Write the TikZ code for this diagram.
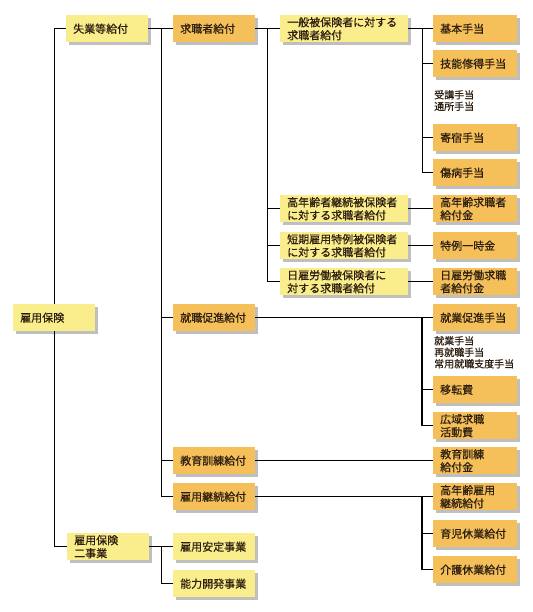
\documentclass[tikz,border=0pt]{standalone}
\usepackage{fontspec}
\newfontfamily\jp[FakeBold=0.6]{Noto Sans CJK JP}
\usetikzlibrary{shadows}

\definecolor{boxyellow}{RGB}{250,238,140}
\definecolor{boxorange}{RGB}{245,192,90}
\definecolor{boxtext}{RGB}{45,30,15}

\begin{document}
\begin{tikzpicture}[x=1pt,y=-1pt,
  box/.style={anchor=north west, minimum height=27pt, inner xsep=7pt, inner ysep=1pt,
    align=left, text=boxtext, font={\jp\fontsize{11}{13}\selectfont},
    drop shadow={shadow xshift=2.5pt, shadow yshift=-2.5pt, fill=black!50, opacity=.5}},
  ybox/.style={box, fill=boxyellow},
  obox/.style={box, fill=boxorange},
  narrow/.style={text width=68pt},
  wide/.style={text width=114pt},
  right/.style={text width=70pt},
  note/.style={anchor=north west, align=left, inner sep=0pt, text=boxtext,
    font={\jp\fontsize{10}{11.5}\selectfont}},
  tree/.style={line width=1.2pt}]

\useasboundingbox (0,0) rectangle (532,612);

% left part
\node[ybox, narrow] (koyohoken) at (13,304) {雇用保険};
\node[ybox, narrow] (shitsugyo) at (66,15) {失業等給付};
\node[ybox, narrow] (nijigyo) at (67,533) {雇用保険\\二事業};

\node[obox, narrow] (kyushoku) at (173,15) {求職者給付};
\node[obox, narrow] (shushoku) at (173,304) {就職促進給付};
\node[obox, narrow] (kyoiku) at (173,447) {教育訓練給付};
\node[obox, narrow] (keizoku) at (173,483) {雇用継続給付};
\node[ybox, narrow] (antei) at (173,533) {雇用安定事業};
\node[ybox, narrow] (noryoku) at (173,570) {能力開発事業};

% middle column
\node[ybox, wide] (ippan) at (280,15) {一般被保険者に対する\\求職者給付};
\node[ybox, wide] (konenrei) at (280,195) {高年齢者継続被保険者\\に対する求職者給付};
\node[ybox, wide] (tanki) at (280,232) {短期雇用特例被保険者\\に対する求職者給付};
\node[ybox, wide] (hiyatoi) at (280,268) {日雇労働被保険者に\\対する求職者給付};

% right column
\node[obox, right] (kihon) at (433,15) {基本手当};
\node[obox, right] (gino) at (433,50) {技能修得手当};
\node[note] (jukou) at (434,90) {受講手当\\通所手当};
\node[obox, right] (kishuku) at (433,124) {寄宿手当};
\node[obox, right] (shobyo) at (433,159) {傷病手当};
\node[obox, right] (konenkyu) at (433,195) {高年齢求職者\\給付金};
\node[obox, right] (tokurei) at (433,232) {特例一時金};
\node[obox, right] (hiyakyu) at (433,268) {日雇労働求職\\者給付金};
\node[obox, right] (shugyo) at (433,304) {就業促進手当};
\node[note] (shugyoteate) at (434,336) {就業手当\\再就職手当\\常用就職支度手当};
\node[obox, right] (iten) at (433,376) {移転費};
\node[obox, right] (koiki) at (433,412) {広域求職\\活動費};
\node[obox, right] (kyoikukin) at (433,447) {教育訓練\\給付金};
\node[obox, right] (konenkoyo) at (433,483) {高年齢雇用\\継続給付};
\node[obox, right] (ikuji) at (433,520) {育児休業給付};
\node[obox, right] (kaigo) at (433,556) {介護休業給付};

% tree lines
\draw[tree] (koyohoken.north) |- (shitsugyo.west);
\draw[tree] (koyohoken.south) |- (nijigyo.west);

\draw[tree] (shitsugyo.east) -- (kyushoku.west);
\foreach \t in {shushoku,kyoiku,keizoku}
  \draw[tree] (shitsugyo.east) -- ++(13,0) |- (\t.west);
\draw[tree] (nijigyo.east) -- (antei.west);
\draw[tree] (nijigyo.east) -- ++(12,0) |- (noryoku.west);

\draw[tree] (kyushoku.east) -- (ippan.west);
\foreach \t in {konenrei,tanki,hiyatoi}
  \draw[tree] (kyushoku.east) -- ++(12,0) |- (\t.west);

\draw[tree] (ippan.east) -- (kihon.west);
\foreach \t in {gino,kishuku,shobyo}
  \draw[tree] (ippan.east) -- ++(14,0) |- (\t.west);
\draw[tree] (konenrei.east) -- (konenkyu.west);
\draw[tree] (tanki.east) -- (tokurei.west);
\draw[tree] (hiyatoi.east) -- (hiyakyu.west);

\draw[tree] (shushoku.east) -- (shugyo.west);
\foreach \t in {iten,koiki}
  \draw[tree] (shugyo.west) ++(-11,0) |- (\t.west);
\draw[tree] (kyoiku.east) -- (kyoikukin.west);
\draw[tree] (keizoku.east) -- (konenkoyo.west);
\foreach \t in {ikuji,kaigo}
  \draw[tree] (konenkoyo.west) ++(-11,0) |- (\t.west);

\end{tikzpicture}
\end{document}
